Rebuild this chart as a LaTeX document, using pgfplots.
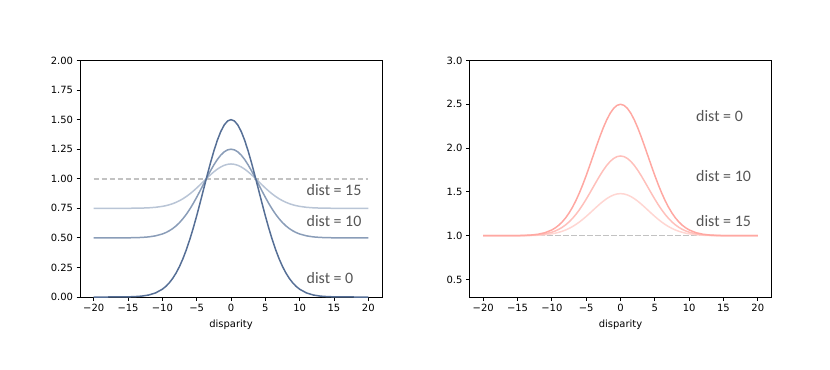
\documentclass[border=0pt]{standalone}
\usepackage{pgfplots}
\usepackage{pgfplotstable}
\pgfplotsset{compat=1.18}
\usepackage{fontspec}
\setmainfont{DejaVu Sans}
\newfontfamily\carlito{Carlito}
\definecolor{bA}{HTML}{566F96}
\definecolor{bB}{HTML}{8A9DB8}
\definecolor{bC}{HTML}{B9C5D6}
\definecolor{rA}{HTML}{FFA8A2}
\definecolor{rB}{HTML}{FFC0BB}
\definecolor{rC}{HTML}{FFD6D2}
\definecolor{dgrey}{HTML}{C2C2C2}
\definecolor{lbl}{HTML}{555555}

\pgfplotstableread{
x L0 L10 L15 R0 R10 R15
-20 0 0.5 0.75 1 1 1
-18 0 0.5 0.75 1 1 1
-16 0.0005 0.5003 0.7501 1.0005 1.0003 1.0002
-15 0.0013 0.5007 0.7503 1.0013 1.0008 1.0004
-14 0.0033 0.5016 0.7508 1.0033 1.0020 1.0011
-13 0.0076 0.5038 0.7519 1.0076 1.0046 1.0024
-12 0.0167 0.5083 0.7542 1.0167 1.0101 1.0053
-11 0.0342 0.5171 0.7585 1.0342 1.0207 1.0109
-10 0.0659 0.5330 0.7665 1.0659 1.0400 1.0211
-9.5 0.0894 0.5447 0.7723 1.0894 1.0542 1.0286
-9 0.1193 0.5597 0.7798 1.1193 1.0724 1.0382
-8.5 0.1569 0.5785 0.7892 1.1569 1.0952 1.0502
-8 0.2030 0.6015 0.8008 1.2030 1.1232 1.0650
-7.5 0.2586 0.6293 0.8147 1.2586 1.1569 1.0828
-7 0.3244 0.6622 0.8311 1.3244 1.1968 1.1038
-6.5 0.4006 0.7003 0.8501 1.4006 1.2430 1.1282
-6 0.4870 0.7435 0.8717 1.4870 1.2954 1.1558
-5.5 0.5829 0.7914 0.8957 1.5829 1.3536 1.1865
-5 0.6867 0.8434 0.9217 1.6867 1.4166 1.2198
-4.5 0.7967 0.8983 0.9492 1.7967 1.4833 1.2549
-4 0.9098 0.9549 0.9774 1.9098 1.5519 1.2911
-3.5 1.0229 1.0115 1.0057 2.0229 1.6206 1.3273
-3 1.1323 1.0661 1.0331 2.1323 1.6869 1.3623
-2.5 1.2339 1.1169 1.0585 2.2339 1.7485 1.3948
-2 1.3238 1.1619 1.0809 2.3238 1.8031 1.4236
-1.5 1.3982 1.1991 1.0995 2.3982 1.8482 1.4474
-1 1.4538 1.2269 1.1135 2.4538 1.8820 1.4652
-0.5 1.4883 1.2442 1.1221 2.4883 1.9029 1.4763
0 1.5 1.25 1.125 2.5 1.91 1.48
0.5 1.4883 1.2442 1.1221 2.4883 1.9029 1.4763
1 1.4538 1.2269 1.1135 2.4538 1.8820 1.4652
1.5 1.3982 1.1991 1.0995 2.3982 1.8482 1.4474
2 1.3238 1.1619 1.0809 2.3238 1.8031 1.4236
2.5 1.2339 1.1169 1.0585 2.2339 1.7485 1.3948
3 1.1323 1.0661 1.0331 2.1323 1.6869 1.3623
3.5 1.0229 1.0115 1.0057 2.0229 1.6206 1.3273
4 0.9098 0.9549 0.9774 1.9098 1.5519 1.2911
4.5 0.7967 0.8983 0.9492 1.7967 1.4833 1.2549
5 0.6867 0.8434 0.9217 1.6867 1.4166 1.2198
5.5 0.5829 0.7914 0.8957 1.5829 1.3536 1.1865
6 0.4870 0.7435 0.8717 1.4870 1.2954 1.1558
6.5 0.4006 0.7003 0.8501 1.4006 1.2430 1.1282
7 0.3244 0.6622 0.8311 1.3244 1.1968 1.1038
7.5 0.2586 0.6293 0.8147 1.2586 1.1569 1.0828
8 0.2030 0.6015 0.8008 1.2030 1.1232 1.0650
8.5 0.1569 0.5785 0.7892 1.1569 1.0952 1.0502
9 0.1193 0.5597 0.7798 1.1193 1.0724 1.0382
9.5 0.0894 0.5447 0.7723 1.0894 1.0542 1.0286
10 0.0659 0.5330 0.7665 1.0659 1.0400 1.0211
11 0.0342 0.5171 0.7585 1.0342 1.0207 1.0109
12 0.0167 0.5083 0.7542 1.0167 1.0101 1.0053
13 0.0076 0.5038 0.7519 1.0076 1.0046 1.0024
14 0.0033 0.5016 0.7508 1.0033 1.0020 1.0011
15 0.0013 0.5007 0.7503 1.0013 1.0008 1.0004
16 0.0005 0.5003 0.7501 1.0005 1.0003 1.0002
18 0 0.5 0.75 1 1 1
20 0 0.5 0.75 1 1 1
}\curves

\pgfplotstableread{
x y
-20 1
20 1
}\ref

\pgfplotsset{
  mystyle/.style={
    scale only axis, width=302bp, height=236.5bp,
    xmin=-22, xmax=22,
    xtick={-20,-15,-10,-5,0,5,10,15,20},
    xticklabels={−20,−15,−10,−5,0,5,10,15,20},
    xtick pos=bottom, ytick pos=left,
    tick align=outside, major tick length=3.5bp,
    every tick/.style={black, line width=0.8bp},
    axis line style={black, line width=0.8bp},
    tick label style={font=\fontsize{10}{12}\selectfont, text=black},
    /pgf/number format/assume math mode=true,
    xlabel={disparity},
    xlabel style={font=\fontsize{10}{12}\selectfont, text=black, yshift=-2bp},
    every axis plot/.append style={line width=1.5bp, line join=round},
    clip=false,
  }
}

\begin{document}
\begin{tikzpicture}[x=1bp,y=1bp]
\path (0,0) rectangle (830,369);
\begin{axis}[mystyle, at={(80bp,72bp)}, anchor=south west,
  ymin=0, ymax=2, ytick={0,0.25,0.5,0.75,1,1.25,1.5,1.75,2},
  yticklabel style={/pgf/number format/.cd, fixed, fixed zerofill, precision=2}]
\addplot[dgrey, dash pattern=on 5.5bp off 2.5bp, line width=1.5bp] table[x=x,y=y]{\ref};
\addplot[bC] table[x=x,y=L15]{\curves};
\addplot[bB] table[x=x,y=L10]{\curves};
\addplot[bA] table[x=x,y=L0]{\curves};
\node[anchor=base west, font=\carlito\fontsize{16}{18}\selectfont, text=lbl, inner sep=0pt] at (axis cs:11.0,0.857) {dist = 15};
\node[anchor=base west, font=\carlito\fontsize{16}{18}\selectfont, text=lbl, inner sep=0pt] at (axis cs:11.0,0.595) {dist = 10};
\node[anchor=base west, font=\carlito\fontsize{16}{18}\selectfont, text=lbl, inner sep=0pt] at (axis cs:11.0,0.118) {dist = 0};
\end{axis}
\begin{axis}[mystyle, at={(469.5bp,72bp)}, anchor=south west,
  ymin=0.3, ymax=3, ytick={0.5,1,1.5,2,2.5,3},
  yticklabel style={/pgf/number format/.cd, fixed, fixed zerofill, precision=1}]
\addplot[dgrey, dash pattern=on 5.5bp off 2.5bp, line width=1.5bp] table[x=x,y=y]{\ref};
\addplot[rC] table[x=x,y=R15]{\curves};
\addplot[rB] table[x=x,y=R10]{\curves};
\addplot[rA] table[x=x,y=R0]{\curves};
\node[anchor=base west, font=\carlito\fontsize{16}{18}\selectfont, text=lbl, inner sep=0pt] at (axis cs:11.0,2.30) {dist = 0};
\node[anchor=base west, font=\carlito\fontsize{16}{18}\selectfont, text=lbl, inner sep=0pt] at (axis cs:11.0,1.62) {dist = 10};
\node[anchor=base west, font=\carlito\fontsize{16}{18}\selectfont, text=lbl, inner sep=0pt] at (axis cs:11.0,1.11) {dist = 15};
\end{axis}
\end{tikzpicture}
\end{document}
